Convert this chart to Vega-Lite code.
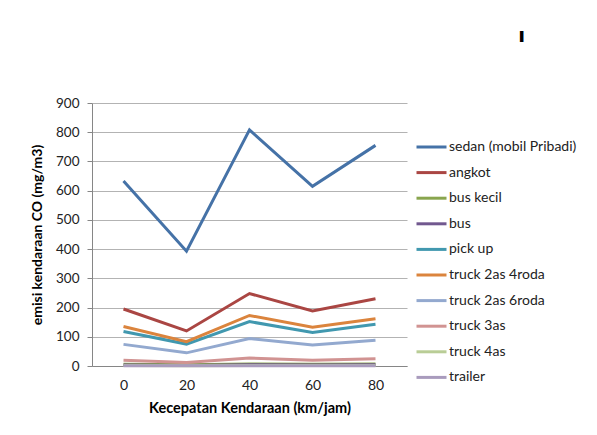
{
  "$schema": "https://vega.github.io/schema/vega-lite/v6.json",
  "width": 315,
  "height": 263,
  "autosize": {"type": "none"},
  "padding": {"left": 92, "top": 103, "right": 190, "bottom": 69},
  "background": "white",
  "title": {"text": "ı", "anchor": "end", "frame": "group", "dx": 118, "offset": 50, "fontSize": 20, "fontWeight": "bold", "font": "DejaVu Sans", "color": "black"},
  "config": {
    "view": {"stroke": null},
    "font": "Lato",
    "axis": {"labelFont": "Lato", "titleFont": "Lato", "labelColor": "#222", "titleColor": "#000"}
  },
  "data": {
    "values": [
      {"v": "sedan (mobil Pribadi)", "speed": 0, "co": 633},
      {"v": "sedan (mobil Pribadi)", "speed": 20, "co": 393},
      {"v": "sedan (mobil Pribadi)", "speed": 40, "co": 808},
      {"v": "sedan (mobil Pribadi)", "speed": 60, "co": 615},
      {"v": "sedan (mobil Pribadi)", "speed": 80, "co": 755},
      {"v": "angkot", "speed": 0, "co": 195},
      {"v": "angkot", "speed": 20, "co": 120},
      {"v": "angkot", "speed": 40, "co": 248},
      {"v": "angkot", "speed": 60, "co": 188},
      {"v": "angkot", "speed": 80, "co": 230},
      {"v": "bus kecil", "speed": 0, "co": 6},
      {"v": "bus kecil", "speed": 20, "co": 4},
      {"v": "bus kecil", "speed": 40, "co": 7},
      {"v": "bus kecil", "speed": 60, "co": 6},
      {"v": "bus kecil", "speed": 80, "co": 7},
      {"v": "bus", "speed": 0, "co": 3},
      {"v": "bus", "speed": 20, "co": 2},
      {"v": "bus", "speed": 40, "co": 4},
      {"v": "bus", "speed": 60, "co": 3},
      {"v": "bus", "speed": 80, "co": 4},
      {"v": "pick up", "speed": 0, "co": 118},
      {"v": "pick up", "speed": 20, "co": 75},
      {"v": "pick up", "speed": 40, "co": 152},
      {"v": "pick up", "speed": 60, "co": 115},
      {"v": "pick up", "speed": 80, "co": 143},
      {"v": "truck 2as 4roda", "speed": 0, "co": 135},
      {"v": "truck 2as 4roda", "speed": 20, "co": 83},
      {"v": "truck 2as 4roda", "speed": 40, "co": 173},
      {"v": "truck 2as 4roda", "speed": 60, "co": 133},
      {"v": "truck 2as 4roda", "speed": 80, "co": 162},
      {"v": "truck 2as 6roda", "speed": 0, "co": 74},
      {"v": "truck 2as 6roda", "speed": 20, "co": 45},
      {"v": "truck 2as 6roda", "speed": 40, "co": 94},
      {"v": "truck 2as 6roda", "speed": 60, "co": 72},
      {"v": "truck 2as 6roda", "speed": 80, "co": 88},
      {"v": "truck 3as", "speed": 0, "co": 20},
      {"v": "truck 3as", "speed": 20, "co": 12},
      {"v": "truck 3as", "speed": 40, "co": 27},
      {"v": "truck 3as", "speed": 60, "co": 20},
      {"v": "truck 3as", "speed": 80, "co": 25},
      {"v": "truck 4as", "speed": 0, "co": 2},
      {"v": "truck 4as", "speed": 20, "co": 1},
      {"v": "truck 4as", "speed": 40, "co": 2},
      {"v": "truck 4as", "speed": 60, "co": 2},
      {"v": "truck 4as", "speed": 80, "co": 2},
      {"v": "trailer", "speed": 0, "co": 1},
      {"v": "trailer", "speed": 20, "co": 1},
      {"v": "trailer", "speed": 40, "co": 1},
      {"v": "trailer", "speed": 60, "co": 1},
      {"v": "trailer", "speed": 80, "co": 1}
    ]
  },
  "mark": {"type": "line", "strokeWidth": 3},
  "encoding": {
    "x": {
      "field": "speed", "type": "ordinal", "sort": null,
      "title": "Kecepatan Kendaraan (km/jam)",
      "axis": {
        "labelAngle": 0, "ticks": false, "labelPadding": 12, "labelFontSize": 14,
        "domainColor": "#868686", "titleFontSize": 14.5, "titleFontWeight": "bold", "titlePadding": 9, "grid": false
      }
    },
    "y": {
      "field": "co", "type": "quantitative",
      "scale": {"domain": [0, 900], "nice": false},
      "title": "emisi kendaraan CO  (mg/m3)",
      "axis": {
        "values": [0, 100, 200, 300, 400, 500, 600, 700, 800, 900],
        "labelFontSize": 13.5, "tickSize": 5, "labelPadding": 8, "tickColor": "#868686",
        "domainColor": "#868686", "gridColor": "#b3b3b3",
        "titleFontSize": 14, "titleFontWeight": "bold", "titlePadding": 11
      }
    },
    "color": {
      "field": "v", "type": "nominal",
      "sort": ["sedan (mobil Pribadi)", "angkot", "bus kecil", "bus", "pick up", "truck 2as 4roda", "truck 2as 6roda", "truck 3as", "truck 4as", "trailer"],
      "scale": {
        "domain": ["sedan (mobil Pribadi)", "angkot", "bus kecil", "bus", "pick up", "truck 2as 4roda", "truck 2as 6roda", "truck 3as", "truck 4as", "trailer"],
        "range": ["#4572A7", "#AA4643", "#89A54E", "#71588F", "#4198AF", "#DB843D", "#93A9CF", "#D19392", "#B9CD96", "#A99BBD"]
      },
      "legend": {
        "title": null,
        "orient": "none",
        "legendX": 338,
        "legendY": 35,
        "symbolType": "M-3,0H1",
        "symbolSize": 225,
        "symbolStrokeWidth": 3,
        "labelFontSize": 14,
        "labelColor": "#222",
        "labelOffset": 1,
        "rowPadding": 9.6,
        "labelLimit": 200
      }
    }
  }
}
